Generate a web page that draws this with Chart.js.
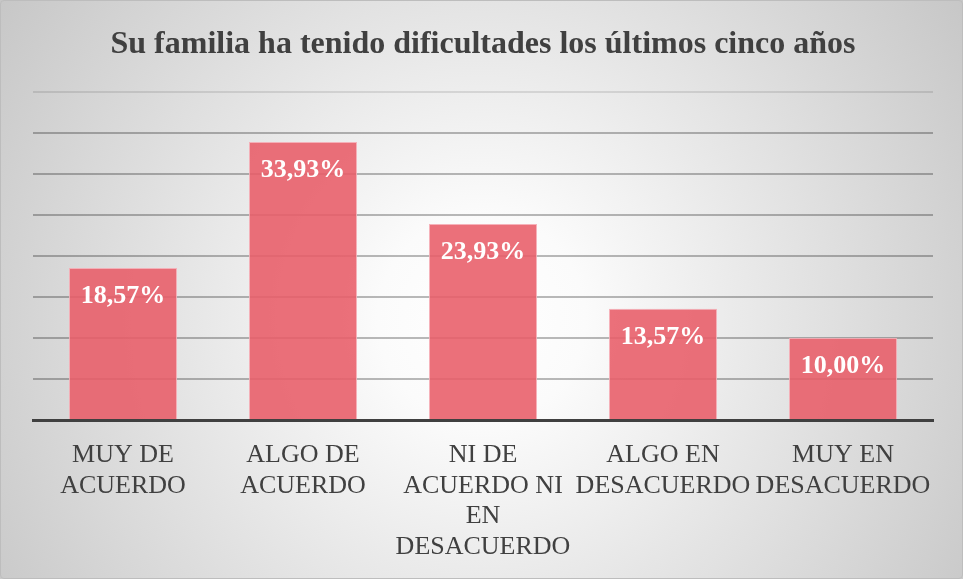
<!DOCTYPE html>
<html>
<head>
<meta charset="utf-8">
<script src="https://cdn.jsdelivr.net/npm/chart.js@4"></script>
<style>
  html, body { margin: 0; padding: 0; background: #ffffff; }
  #wrap {
    position: relative; width: 963px; height: 579px; overflow: hidden;
    background: radial-gradient(circle farthest-corner at 50% 55%, #ffffff 0%, #fbfbfb 18%, #c7c7c7 100%);
  }
  #frame {
    position: absolute; left: 0; top: 0; width: 963px; height: 579px;
    box-sizing: border-box; border: 1px solid #bdbdbd; border-radius: 4px; pointer-events: none;
  }
  canvas { position: absolute; left: 0; top: 0; }
</style>
</head>
<body>
<div id="wrap">
  <canvas id="c" width="963" height="579"></canvas>
  <div id="frame"></div>
</div>
<script>
const chartTitle = 'Su familia ha tenido dificultades los últimos cinco años';
const categories = [
  ['MUY DE', 'ACUERDO'],
  ['ALGO DE', 'ACUERDO'],
  ['NI DE', 'ACUERDO NI', 'EN', 'DESACUERDO'],
  ['ALGO EN', 'DESACUERDO'],
  ['MUY EN', 'DESACUERDO']
];
const values = [18.57, 33.93, 23.93, 13.57, 10.00];
const yMin = 0;
const yMax = 40;
const yStep = 5;

const SERIF = '"Liberation Serif", "Times New Roman", serif';

const dataLabelPlugin = {
  id: 'dataLabels',
  afterDatasetsDraw(chart) {
    const ctx = chart.ctx;
    const meta = chart.getDatasetMeta(0);
    ctx.save();
    ctx.font = 'bold 26px ' + SERIF;
    ctx.fillStyle = '#ffffff';
    ctx.textAlign = 'center';
    ctx.textBaseline = 'middle';
    meta.data.forEach((bar, i) => {
      const txt = values[i].toFixed(2).replace('.', ',') + '%';
      ctx.fillText(txt, bar.x, bar.y + 28);
    });
    ctx.restore();
  }
};

new Chart(document.getElementById('c'), {
  type: 'bar',
  data: {
    labels: categories,
    datasets: [{
      data: values,
      backgroundColor: 'rgba(232, 92, 104, 0.88)',
      borderColor: 'rgba(245, 170, 178, 0.9)',
      borderWidth: 1,
      barPercentage: 0.6,
      categoryPercentage: 1.0
    }]
  },
  options: {
    responsive: false,
    animation: false,
    layout: { padding: { left: 33, right: 30, top: 0, bottom: -3 } },
    plugins: {
      legend: { display: false },
      tooltip: { enabled: false },
      title: {
        display: true,
        text: chartTitle,
        color: '#404040',
        font: { family: SERIF, size: 32, weight: 'bold', lineHeight: 1.2 },
        padding: { top: 26, bottom: 28 }
      }
    },
    scales: {
      x: {
        grid: { display: false, drawTicks: false },
        border: { display: true, color: '#404040', width: 3 },
        ticks: {
          color: '#404040',
          font: { family: SERIF, size: 26, lineHeight: 1.173 },
          padding: 20,
          maxRotation: 0,
          autoSkip: false
        }
      },
      y: {
        min: yMin,
        max: yMax,
        ticks: { display: false, stepSize: yStep },
        border: { display: false },
        grid: {
          drawTicks: false,
          lineWidth: 2,
          color: (c) => (c.tick && c.tick.value === yMax) ? 'rgba(0,0,0,0.10)' : 'rgba(0,0,0,0.27)'
        }
      }
    }
  },
  plugins: [dataLabelPlugin]
});
</script>
</body>
</html>
